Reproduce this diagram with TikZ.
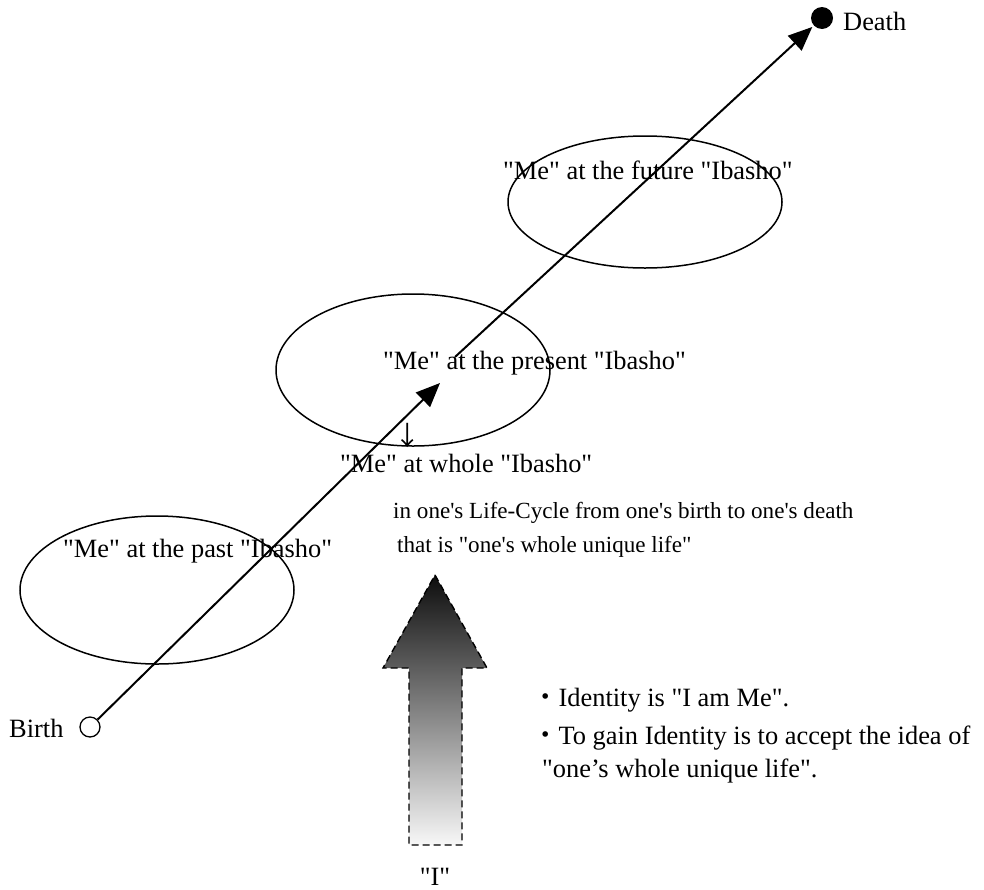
\documentclass[tikz,border=0pt]{standalone}
\usepackage{fontspec}
\setmainfont{Liberation Serif}[Ligatures=TeXOff]
\newfontfamily\cjk{Noto Sans CJK JP}
\usetikzlibrary{arrows.meta, shapes.geometric}

\begin{document}
\begin{tikzpicture}[
  x=1pt, y=-1pt,
  font=\fontsize{26.4}{31}\selectfont,
  lbl/.style={anchor=base west, inner sep=0pt},
  smalllbl/.style={lbl, font=\fontsize{23.1}{28}\selectfont},
  lifearrow/.style={-{Triangle[length=24pt,width=20pt]}, line width=2pt},
  place/.style={ellipse, draw, line width=1.5pt, minimum width=274pt, inner sep=0pt},
  selfarrow/.style={line width=1.4pt, dash pattern=on 7pt off 4pt,
                    top color=black!95, bottom color=white!97!black},
]
  \useasboundingbox (0,0) rectangle (984,889);
  % places of "Me"
  \node[place, minimum height=148pt] (pastE) at (157,590) {};
  \node[place, minimum height=152pt] (presentE) at (413,370) {};
  \node[place, minimum height=132pt] (futureE) at (645,202) {};
  \node[lbl] (pastL) at (63,557) {"Me" at the past "Ibasho"};
  \node[lbl] (presentL) at (383,369) {"Me" at the present "Ibasho"};
  \node[lbl] (futureL) at (503,179) {"Me" at the future "Ibasho"};
  % birth and death
  \node[circle, draw, line width=1.3pt, minimum size=20pt, inner sep=0pt] (birth) at (90,727) {};
  \node[circle, fill=black, minimum size=22pt, inner sep=0pt] (death) at (822,18) {};
  \node[lbl] (birthL) at (9,737) {Birth};
  \node[lbl] (deathL) at (843,30) {Death};
  \coordinate (midA) at (440,383);
  \coordinate (midB) at (455,357);
  \draw[lifearrow] (birth) -- (midA);
  \draw[lifearrow, shorten >=2pt] (midB) -- (death);
  % whole life
  \node[inner sep=0pt] (down) at (408,436) {\cjk ↓};
  \node[lbl] (wholeL) at (340,472) {"Me" at whole "Ibasho"};
  \node[smalllbl] (cycleL) at (393,518) {in one's Life-Cycle from one's birth to one's death};
  \node[smalllbl] (uniqueL) at (397,552) {that is "one's whole unique life"};
  % "I"
  \draw[selfarrow] (435,575) -- (487,668) -- (462,668) -- (462,845)
    -- (409,845) -- (409,668) -- (383,668) -- cycle;
  \node[anchor=base, inner sep=0pt] (selfL) at (435,885) {"I"};
  % identity
  \node[lbl] (idA) at (532,706) {{\cjk ・}Identity is "I am Me".};
  \node[lbl] (idB) at (532,744) {{\cjk ・}To gain Identity is to accept the idea of};
  \node[lbl] (idC) at (542,777) {"one’s whole unique life".};
\end{tikzpicture}
\end{document}
